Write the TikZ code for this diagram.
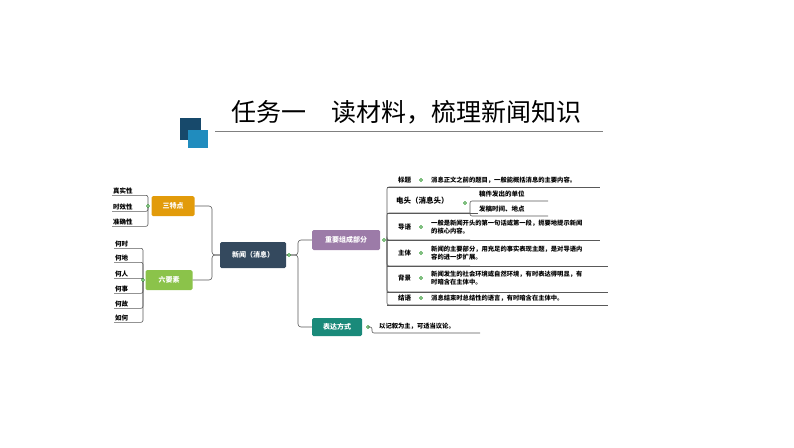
\documentclass[tikz,border=0pt]{standalone}
\usepackage{fontspec}
\setmainfont{Noto Sans CJK SC}
\begin{document}
\begin{tikzpicture}[x=1pt,y=-1pt,
  box/.style={rounded corners=1.5pt,text=white,font=\fontsize{7}{8}\selectfont\bfseries,inner sep=0pt,minimum height=20pt},
  leaf/.style={font=\fontsize{6.5}{7}\selectfont\bfseries,inner sep=1pt,anchor=west},
  desc/.style={font=\fontsize{6.3}{7.8}\selectfont\bfseries,inner sep=1pt,anchor=west,align=left},
  ln/.style={draw=gray!70!black,line width=0.6pt,rounded corners=3pt},
  knob/.style={circle,draw=green!50!black,fill=white,inner sep=0pt,minimum size=3pt,line width=0.4pt}]
\useasboundingbox (0,0) rectangle (794,447);
% title
\fill[fill={rgb,255:red,23;green,73;blue,107}] (180,118) rectangle (201,140);
\fill[fill={rgb,255:red,32;green,140;blue,190}] (188,130) rectangle (208,148);
\draw[gray,line width=0.8pt] (215,131) -- (603,131);
\node[font=\fontsize{25}{28}\selectfont,anchor=west] (title) at (228,112) {任务一\quad 读材料，梳理新闻知识};
% main nodes
\node[box,fill={rgb,255:red,52;green,73;blue,94},minimum width=66pt,minimum height=26pt] (c) at (253,255) {新闻（消息）};
\node[box,fill={rgb,255:red,226;green,155;blue,10},minimum width=43pt] (t) at (173,206) {三特点};
\node[box,fill={rgb,255:red,139;green,195;blue,74},minimum width=47pt] (s) at (169,280) {六要素};
\node[box,fill={rgb,255:red,156;green,123;blue,168},minimum width=68pt] (z) at (346,240) {重要组成部分};
\node[box,fill={rgb,255:red,26;green,138;blue,122},minimum width=50pt,minimum height=18pt] (b) at (337,327) {表达方式};
% center links
\draw[ln] (c.west) -- (212,255) |- (t.east);
\draw[ln] (c.west) -- (212,255) |- (s.east);
\draw[ln] (c.east) -- (298,255) |- (z.west);
\draw[ln] (c.east) -- (298,255) |- (b.west);
\node[knob] at (289,255) {};
% three traits
\foreach \n/\y/\t in {t1/191/真实性,t2/207/时效性,t3/222/准确性}{
  \node[leaf] (\n) at (112,\y) {\t};
  \draw[ln,rounded corners=2pt] (148,206) |- (\n.south east) -- (\n.south west);
}
\node[knob] at (148,206) {};
% six elements
\foreach \n/\y/\t in {s1/244/何时,s2/258/何地,s3/274/何人,s4/289/何事,s5/304/何故,s6/318/如何}{
  \node[leaf] (\n) at (114,\y) {\t};
  \draw[ln,rounded corners=2pt] (143,280) |- (\n.south east) -- (\n.south west);
}
\node[knob] at (143,280) {};
% components
\node[knob] at (384,240) {};
\foreach \n/\y/\t in {r1/180/标题,r3/227/导语,r4/253/主体,r5/278/背景,r6/298/结语}{
  \node[leaf] (\n) at (397,\y) {\t};
}
\node[leaf,font=\fontsize{7.5}{8}\selectfont\bfseries] (r2) at (395,201) {电头（消息头）};
\foreach \y in {187,213,240,266,292,305}{\draw[ln,rounded corners=2pt] (387,240) |- (470,\y);}
\draw[ln] (387,187) -- (600,187);
\draw[ln] (387,213) -- (478,213);
\draw[ln] (387,240) -- (600,240);
\draw[ln] (387,266) -- (608,266);
\draw[ln] (387,292) -- (608,292);
\draw[ln] (387,305) -- (608,305);
\foreach \y in {180,227,253,278,298}{\node[knob] at (421,\y) {};}
\node[knob] at (465,203) {};
\draw[ln,rounded corners=2pt] (470,203) |- (478,201) -- (548,201);
\draw[ln,rounded corners=2pt] (470,203) |- (478,216) -- (548,216);
\node[leaf] (d1) at (478,194) {稿件发出的单位};
\node[leaf] (d2) at (478,209) {发稿时间、地点};
\node[desc] (e1) at (430,180) {消息正文之前的题目，一般能概括消息的主要内容。};
\node[desc] (e3) at (430,227) {一般是新闻开头的第一句话或第一段，扼要地提示新闻\\的核心内容。};
\node[desc] (e4) at (430,253) {新闻的主要部分，用充足的事实表现主题，是对导语内\\容的进一步扩展。};
\node[desc] (e5) at (430,278) {新闻发生的社会环境或自然环境，有时表达得明显，有\\时暗含在主体中。};
\node[desc] (e6) at (430,298) {消息结束时总结性的语言，有时暗含在主体中。};
% expression
\node[knob] at (368,327) {};
\node[desc] (x1) at (378,326) {以记叙为主，可适当议论。};
\draw[ln,rounded corners=2pt] (368,327) -- (372,327) |- (480,333);
\end{tikzpicture}
\end{document}
